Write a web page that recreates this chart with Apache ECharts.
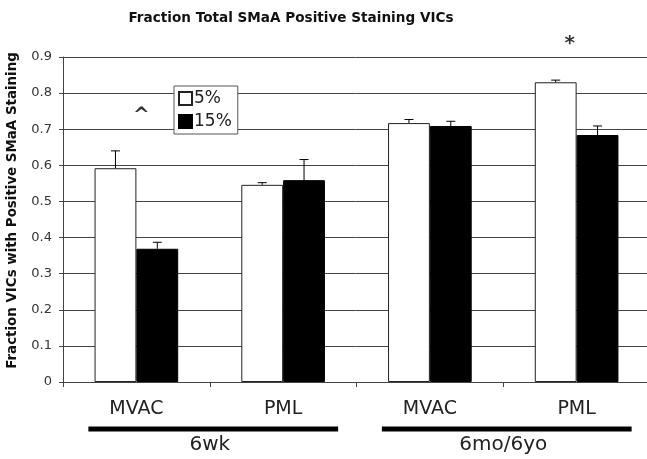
<!DOCTYPE html>
<html>
<head>
<meta charset="utf-8">
<script src="https://cdn.jsdelivr.net/npm/echarts@6/dist/echarts.min.js"></script>
<style>
  html, body { margin: 0; padding: 0; background: #fff; }
  #chart { width: 647px; height: 459px; }
</style>
</head>
<body>
<div id="chart"></div>
<script>
// data
const categories = ["MVAC", "PML", "MVAC", "PML"];
const groupNames = ["6wk", "6mo/6yo"];
const groupSpans = [[0, 1], [2, 3]];
const seriesNames = ["5%", "15%"];
const values5 = [0.592, 0.546, 0.717, 0.830];
const values15 = [0.369, 0.559, 0.709, 0.684];
const err5 = [0.048, 0.006, 0.010, 0.006];
const err15 = [0.018, 0.057, 0.013, 0.025];
const marks = [[0, 0.737, "^"], [3, 0.937, "*"]];

const font = "DejaVu Sans";
const catGap = 0.43; // share of the category left empty

const chart = echarts.init(document.getElementById("chart"));

// error bars: [category, value, err, series index]
let errData = [];
values5.forEach((v, i) => errData.push([i, v, err5[i], 0]));
values15.forEach((v, i) => errData.push([i, v, err15[i], 1]));

function renderErr(params, api) {
    let x = api.value(0);
    let v = api.value(1);
    let e = api.value(2);
    let s = api.value(3);
    let base = api.coord([x, v]);
    let top = api.coord([x, v + e]);
    let catW = api.size([1, 0])[0];
    let barW = catW * (1 - catGap) / 2;
    let cx = base[0] + (s === 0 ? -barW / 2 : barW / 2);
    let style = { stroke: "#000", lineWidth: 1 };
    return {
        type: "group",
        children: [
            { type: "line", shape: { x1: cx, y1: base[1], x2: cx, y2: top[1] }, style: style },
            { type: "line", shape: { x1: cx - 4.5, y1: top[1], x2: cx + 4.5, y2: top[1] }, style: style },
        ],
    };
}

const option = {
    backgroundColor: "#fff",
    animation: false,
    title: {
        text: "Fraction Total SMaA Positive Staining VICs",
        left: 286,
        textAlign: "center",
        top: 6,
        textStyle: { fontFamily: font, fontSize: 13.6, fontWeight: "bold", color: "#111" },
    },
    legend: {
        data: seriesNames,
        orient: "vertical",
        left: 174,
        top: 86,
        itemWidth: 13,
        itemHeight: 13,
        itemGap: 6,
        padding: [4, 6, 4, 4],
        backgroundColor: "#fff",
        borderColor: "#555",
        borderWidth: 1,
        icon: "rect",
        textStyle: { fontFamily: font, fontSize: 17, color: "#222", padding: [0, 0, 0, -3] },
    },
    grid: {
        left: 63,
        top: 57,
        width: 587,
        height: 325,
        outerBoundsMode: "none",
    },
    xAxis: [
        {
            type: "category",
            data: categories,
            axisLine: { lineStyle: { color: "#444", width: 1 } },
            axisTick: { show: true, length: 5, lineStyle: { color: "#444" } },
            axisLabel: { fontFamily: font, fontSize: 19, color: "#222", margin: 18 },
        },
        {
            type: "category",
            data: groupNames,
            position: "bottom",
            offset: 45,
            axisLine: { show: false },
            axisTick: { show: false },
            axisLabel: { fontFamily: font, fontSize: 20, color: "#222", margin: 8 },
        },
    ],
    yAxis: {
        type: "value",
        min: 0,
        max: 0.9,
        interval: 0.1,
        name: "Fraction VICs with Positive SMaA Staining",
        nameLocation: "middle",
        nameRotate: 90,
        nameGap: 44,
        nameTextStyle: {
            fontFamily: font, fontSize: 13.4, fontWeight: "bold", color: "#111",
            padding: [0, 0, 0, 18],
        },
        axisLine: { show: true, lineStyle: { color: "#444" } },
        axisTick: { show: true, length: 4, lineStyle: { color: "#444" } },
        axisLabel: { fontFamily: font, fontSize: 13, color: "#333", margin: 11 },
        splitLine: { lineStyle: { color: "#444", width: 1 } },
    },
    series: [
        {
            name: seriesNames[0],
            type: "bar",
            data: values5,
            barGap: 0,
            barCategoryGap: catGap * 100 + "%",
            itemStyle: { color: "#fff", borderColor: "#222", borderWidth: 1 },
        },
        {
            name: seriesNames[1],
            type: "bar",
            data: values15,
            itemStyle: { color: "#000", borderColor: "#000", borderWidth: 1 },
        },
        {
            type: "custom",
            renderItem: renderErr,
            data: errData,
            encode: { x: 0, y: 1 },
            z: 5,
            silent: true,
        },
        {
            type: "scatter",
            data: marks.map((m, i) => ({
                value: [m[0], m[1]],
                name: m[2],
                label: { offset: [i === 0 ? 5 : -7, 0] },
            })),
            symbolSize: 0,
            clip: false,
            silent: true,
            label: {
                show: true,
                position: "inside",
                formatter: p => p.name,
                fontFamily: font,
                fontSize: 20,
                fontWeight: "bold",
                color: "#000",
            },
        },
    ],
};

chart.setOption(option);

// black bars under the group labels
function drawGroupLines() {
    let items = groupSpans.map(span => {
        let a = chart.convertToPixel({ xAxisIndex: 0 }, span[0]);
        let b = chart.convertToPixel({ xAxisIndex: 0 }, span[1]);
        let y = chart.convertToPixel({ yAxisIndex: 0 }, 0);
        return {
            type: "line",
            shape: { x1: a - 48, y1: y + 47, x2: b + 55, y2: y + 47 },
            style: { stroke: "#000", lineWidth: 5 },
        };
    });
    chart.setOption({ graphic: items });
}
drawGroupLines();
</script>
</body>
</html>
